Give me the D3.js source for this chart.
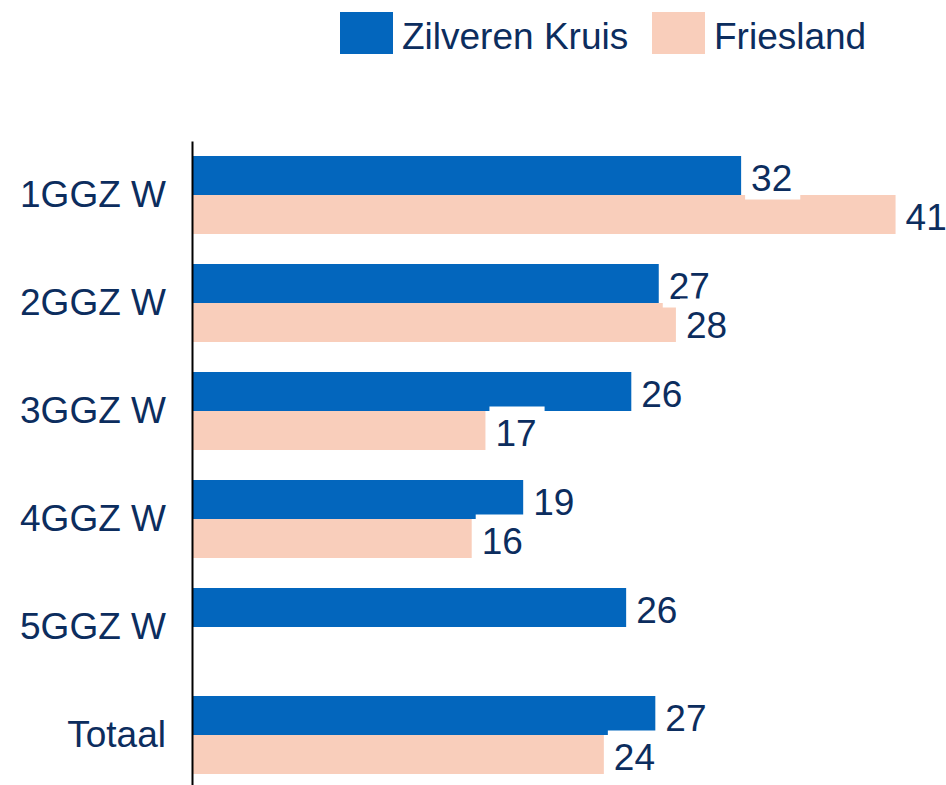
<!DOCTYPE html>
<html>
<head>
<meta charset="utf-8">
<script src="https://cdn.jsdelivr.net/npm/d3@7"></script>
<style>
  body { margin: 0; background: #fff; }
  text { font-family: "Liberation Sans", Arial, sans-serif; fill: #0c2d5e; }
</style>
</head>
<body>
<div id="chart"></div>
<script>
// data
var categories = ["1GGZ W", "2GGZ W", "3GGZ W", "4GGZ W", "5GGZ W", "Totaal"];
var seriesNames = ["Zilveren Kruis", "Friesland"];
var zkValues = [32, 27.2, 25.6, 19.3, 25.3, 27.0];
var frValues = [41, 28.2, 17.1, 16.3, null, 24.0];
// printed labels (rounded in the source)
var zkLabels = ["32", "27", "26", "19", "26", "27"];
var frLabels = ["41", "28", "17", "16", null, "24"];

var colors = ["#0366bd", "#f9cebb"];

var width = 946, height = 785;

var svg = d3.select("#chart").append("svg")
    .attr("width", width)
    .attr("height", height);

// x: pixels per unit ~17.16 starting at the axis
var x = d3.scaleLinear()
    .domain([0, 45])
    .range([192, 192 + 45 * 17.16]);

var y = d3.scaleBand()
    .domain(categories)
    .range([141, 789])
    .paddingInner(0.2778)
    .paddingOuter(0.1389);

var ySub = d3.scaleBand()
    .domain(seriesNames)
    .range([0, y.bandwidth()]);

var rows = categories.map(function (c, i) {
    return {
        cat: c,
        vals: [
            {s: seriesNames[0], v: zkValues[i], lab: zkLabels[i]},
            {s: seriesNames[1], v: frValues[i], lab: frLabels[i]}
        ]
    };
});

var groups = svg.selectAll(".grp")
    .data(rows)
    .enter().append("g")
    .attr("class", "grp")
    .attr("transform", d => "translate(0," + y(d.cat) + ")");

// bars
groups.selectAll("rect.bar")
    .data(d => d.vals.filter(v => v.v != null))
    .enter().append("rect")
    .attr("class", "bar")
    .attr("x", x(0))
    .attr("y", d => ySub(d.s))
    .attr("width", d => x(d.v) - x(0))
    .attr("height", ySub.bandwidth())
    .attr("fill", d => colors[seriesNames.indexOf(d.s)]);

// value labels with white box behind
var labs = svg.append("g").selectAll("g")
    .data(rows.flatMap(r => r.vals.filter(v => v.v != null).map(v => Object.assign({cat: r.cat}, v))))
    .enter().append("g")
    .attr("transform", d => "translate(" + (x(d.v) + 10) + "," + (y(d.cat) + ySub(d.s) + ySub.bandwidth() / 2) + ")");

labs.append("rect").attr("fill", "#fff");

var texts = labs.append("text")
    .attr("dy", "0.42em")
    .style("font-size", "37px")
    .text(d => d.lab);

texts.each(function (d) {
    var w = this.getComputedTextLength();
    d3.select(this.parentNode).select("rect")
        .attr("x", -6)
        .attr("y", -24)
        .attr("width", w + 14)
        .attr("height", 48);
});

// category axis
var yAxis = d3.axisLeft(y).tickSize(0).tickPadding(26);
var ax = svg.append("g")
    .attr("transform", "translate(192,0)")
    .call(yAxis);
ax.select(".domain").attr("stroke", "#000").attr("stroke-width", 2);
ax.selectAll("text")
    .attr("fill", "#0c2d5e")
    .style("font-size", "37px")
    .style("font-family", "'Liberation Sans', Arial, sans-serif");

// legend
var legX = [340, 652];
var leg = svg.append("g").selectAll("g")
    .data(seriesNames)
    .enter().append("g")
    .attr("transform", (d, i) => "translate(" + legX[i] + ",12)");
leg.append("rect")
    .attr("width", 53)
    .attr("height", 42)
    .attr("fill", (d, i) => colors[i]);
leg.append("text")
    .attr("x", 62)
    .attr("y", 37)
    .style("font-size", "37px")
    .text(d => d);
</script>
</body>
</html>
